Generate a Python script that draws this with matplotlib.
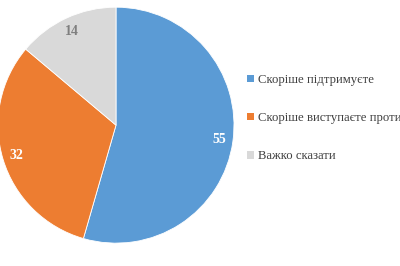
import matplotlib.pyplot as plt
from matplotlib.patches import Patch

# Дані діаграми
labels = ["Скоріше підтримуєте", "Скоріше виступаєте проти", "Важко сказати"]
values = [55, 32, 14]
colors = ["#5B9BD5", "#ED7D31", "#D9D9D9"]
label_colors = ["white", "white", "#7F7F7F"]

plt.rcParams['font.family'] = ['Liberation Serif', 'DejaVu Serif']

fig = plt.figure(figsize=(4, 2.66), dpi=100)
# вісь для кола: центр ~ (116, 125) px, радіус ~118 px
ax = fig.add_axes([-0.005, 0.086, 0.59, 0.887])

wedges, texts = ax.pie(values, colors=colors, startangle=90, counterclock=False,
                       labels=[str(v) for v in values], labeldistance=0.88,
                       wedgeprops=dict(edgecolor="white", linewidth=0.6))
for t, c in zip(texts, label_colors):
    t.set_color(c)
    t.set_fontweight("bold")
    t.set_fontsize(10)
    t.set_ha("center")
    t.set_va("center")
ax.set_xlim(-1, 1)
ax.set_ylim(-1, 1)
ax.set_aspect("auto")
ax.axis("off")

handles = [Patch(facecolor=c, edgecolor="none") for c in colors]
fig.legend(handles, labels, loc="upper left", bbox_to_anchor=(0.617, 0.722),
           frameon=False, fontsize=9.2, handlelength=0.55, handleheight=0.55,
           handletextpad=0.3, labelspacing=2.05, borderaxespad=0, borderpad=0,
           labelcolor="#404040")

fig.savefig("out.png", dpi=100)
